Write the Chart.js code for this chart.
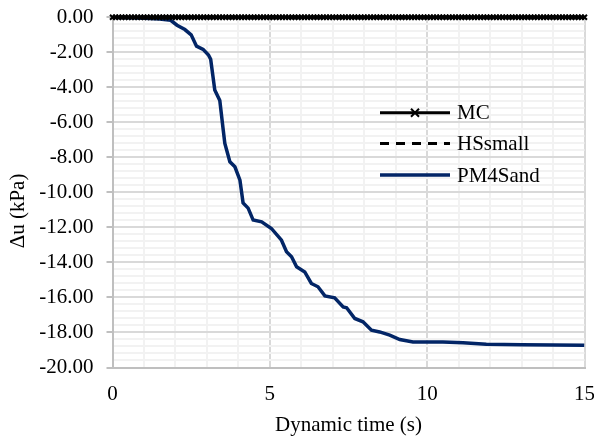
<!DOCTYPE html>
<html>
<head>
<meta charset="utf-8">
<script src="https://cdn.jsdelivr.net/npm/chart.js@4.4.1/dist/chart.umd.min.js"></script>
<style>
  html, body { margin: 0; padding: 0; background: #fff; }
  #wrap { width: 594px; height: 441px; }
</style>
</head>
<body>
<div id="wrap"><canvas id="myChart" width="594" height="441"></canvas></div>
<script>
const ctx = document.getElementById('myChart');

// MC : sampled every 0.1 s
let mcTime = [
  0, 0.1, 0.2, 0.3, 0.4, 0.5, 0.6, 0.7, 0.8, 0.9,
  1, 1.1, 1.2, 1.3, 1.4, 1.5, 1.6, 1.7, 1.8, 1.9,
  2, 2.1, 2.2, 2.3, 2.4, 2.5, 2.6, 2.7, 2.8, 2.9,
  3, 3.1, 3.2, 3.3, 3.4, 3.5, 3.6, 3.7, 3.8, 3.9,
  4, 4.1, 4.2, 4.3, 4.4, 4.5, 4.6, 4.7, 4.8, 4.9,
  5, 5.1, 5.2, 5.3, 5.4, 5.5, 5.6, 5.7, 5.8, 5.9,
  6, 6.1, 6.2, 6.3, 6.4, 6.5, 6.6, 6.7, 6.8, 6.9,
  7, 7.1, 7.2, 7.3, 7.4, 7.5, 7.6, 7.7, 7.8, 7.9,
  8, 8.1, 8.2, 8.3, 8.4, 8.5, 8.6, 8.7, 8.8, 8.9,
  9, 9.1, 9.2, 9.3, 9.4, 9.5, 9.6, 9.7, 9.8, 9.9,
  10, 10.1, 10.2, 10.3, 10.4, 10.5, 10.6, 10.7, 10.8, 10.9,
  11, 11.1, 11.2, 11.3, 11.4, 11.5, 11.6, 11.7, 11.8, 11.9,
  12, 12.1, 12.2, 12.3, 12.4, 12.5, 12.6, 12.7, 12.8, 12.9,
  13, 13.1, 13.2, 13.3, 13.4, 13.5, 13.6, 13.7, 13.8, 13.9,
  14, 14.1, 14.2, 14.3, 14.4, 14.5, 14.6, 14.7, 14.8, 14.9,
  15
];
let mcDu = [
  0, 0, 0, 0, 0, 0, 0, 0, 0, 0,
  0, 0, 0, 0, 0, 0, 0, 0, 0, 0,
  0, 0, 0, 0, 0, 0, 0, 0, 0, 0,
  0, 0, 0, 0, 0, 0, 0, 0, 0, 0,
  0, 0, 0, 0, 0, 0, 0, 0, 0, 0,
  0, 0, 0, 0, 0, 0, 0, 0, 0, 0,
  0, 0, 0, 0, 0, 0, 0, 0, 0, 0,
  0, 0, 0, 0, 0, 0, 0, 0, 0, 0,
  0, 0, 0, 0, 0, 0, 0, 0, 0, 0,
  0, 0, 0, 0, 0, 0, 0, 0, 0, 0,
  0, 0, 0, 0, 0, 0, 0, 0, 0, 0,
  0, 0, 0, 0, 0, 0, 0, 0, 0, 0,
  0, 0, 0, 0, 0, 0, 0, 0, 0, 0,
  0, 0, 0, 0, 0, 0, 0, 0, 0, 0,
  0, 0, 0, 0, 0, 0, 0, 0, 0, 0,
  0
];

let hsTime = [0, 2.5, 5, 7.5, 10, 12.5, 15];
let hsDu   = [0, 0, 0, 0, 0, 0, 0];

let pmTime = [0, 0.5, 1.0, 1.5, 1.85, 2.05, 2.3, 2.5, 2.67, 2.88, 3.05, 3.12, 3.25, 3.41,
  3.52, 3.57, 3.73, 3.89, 4.05, 4.15, 4.31, 4.47, 4.74, 5.05, 5.37, 5.53, 5.69, 5.85,
  6.11, 6.32, 6.53, 6.75, 7.06, 7.33, 7.44, 7.70, 7.96, 8.23, 8.49, 8.81, 9.13, 9.55,
  10.5, 11.14, 11.88, 13.0, 15.0];
let pmDu = [0, -0.02, -0.06, -0.1, -0.17, -0.45, -0.7, -1.0, -1.65, -1.83, -2.15, -2.4, -4.15, -4.75,
  -6.45, -7.2, -8.25, -8.54, -9.3, -10.6, -10.9, -11.58, -11.68, -12.06, -12.73, -13.39, -13.68, -14.25,
  -14.54, -15.2, -15.39, -15.91, -16.02, -16.54, -16.59, -17.2, -17.39, -17.87, -17.97, -18.15, -18.4, -18.54,
  -18.55, -18.59, -18.67, -18.7, -18.73];

let xTitle = 'Dynamic time (s)';
let yTitle = 'Δu (kPa)';

const FONT = "'Liberation Serif', 'Times New Roman', serif";
const pts = (xs, ys) => xs.map((x, i) => ({ x: x, y: ys[i] }));
const isMult = (v, m) => Math.abs(v / m - Math.round(v / m)) < 1e-6;
const noPad = (s) => { s.paddingTop = 0; s.paddingBottom = 0; s.paddingLeft = 0; s.paddingRight = 0; };

// legend drawn inside the plot, like the original
const legendBox = {
  id: 'legendBox',
  afterDraw(chart) {
    const c = chart.ctx;
    const rows = [112.7, 143.5, 175];
    c.save();
    chart.data.datasets.forEach((ds, i) => {
      const y = rows[i];
      c.strokeStyle = ds.borderColor;
      c.lineWidth = ds.borderWidth;
      c.setLineDash(ds.borderDash || []);
      c.beginPath();
      c.moveTo(380, y);
      c.lineTo(450, y);
      c.stroke();
      c.setLineDash([]);
      if (ds.pointRadius > 0) {
        const r = 4;
        c.lineWidth = 2;
        c.beginPath();
        c.moveTo(415 - r, y - r); c.lineTo(415 + r, y + r);
        c.moveTo(415 + r, y - r); c.lineTo(415 - r, y + r);
        c.stroke();
      }
      c.fillStyle = '#000';
      c.font = '21px ' + FONT;
      c.textAlign = 'left';
      c.textBaseline = 'middle';
      c.fillText(ds.label, 457, y + 1);
    });
    // y axis title
    c.translate(18.5, 211);
    c.rotate(-Math.PI / 2);
    c.textAlign = 'center';
    c.textBaseline = 'middle';
    c.font = '21px ' + FONT;
    c.fillText(yTitle, 0, 0);
    c.restore();
  }
};

new Chart(ctx, {
  type: 'line',
  data: {
    datasets: [{
      label: 'MC',
      data: pts(mcTime, mcDu),
      borderColor: '#000',
      backgroundColor: '#000',
      borderWidth: 3,
      pointStyle: 'crossRot',
      pointRadius: 3.5,
      pointBorderWidth: 2,
      pointBorderColor: '#000',
      clip: false
    }, {
      label: 'HSsmall',
      data: pts(hsTime, hsDu),
      borderColor: '#000',
      borderWidth: 3,
      borderDash: [9, 7],
      pointRadius: 0
    }, {
      label: 'PM4Sand',
      data: pts(pmTime, pmDu),
      borderColor: '#022566',
      borderWidth: 3.5,
      pointRadius: 0,
      tension: 0
    }]
  },
  options: {
    responsive: false,
    animation: false,
    layout: { padding: { top: 17.3, right: 9.5, left: 0, bottom: 0 } },
    plugins: {
      legend: { display: false },
      tooltip: { enabled: false }
    },
    scales: {
      x: {
        type: 'linear',
        min: 0,
        max: 15,
        afterFit: (s) => { s.height = 73.5; noPad(s); },
        ticks: {
          stepSize: 1,
          autoSkip: false,
          maxRotation: 0,
          padding: 14,
          color: '#000',
          font: { family: FONT, size: 21 },
          callback: (v) => isMult(v, 5) ? String(Math.round(v)) : ''
        },
        grid: {
          drawTicks: false,
          lineWidth: 2,
          color: (c) => isMult(c.tick.value, 5) ? '#d9d9d9' : '#f2f2f2'
        },
        border: { color: '#bfbfbf', width: 2 },
        title: {
          display: true,
          text: xTitle,
          color: '#000',
          font: { family: FONT, size: 21 },
          padding: { top: 0, bottom: 3 }
        }
      },
      y: {
        min: -20,
        max: 0,
        afterFit: (s) => { s.width = 112.5; noPad(s); },
        ticks: {
          stepSize: 0.4,
          autoSkip: false,
          padding: 13,
          color: '#000',
          font: { family: FONT, size: 21 },
          callback: (v) => isMult(v, 2) ? v.toFixed(2) : ''
        },
        grid: {
          tickLength: 6,
          lineWidth: 2,
          color: (c) => isMult(c.tick.value, 2) ? '#d9d9d9' : '#f2f2f2',
          tickColor: (c) => isMult(c.tick.value, 2) ? '#bfbfbf' : 'rgba(0,0,0,0)'
        },
        border: { color: '#bfbfbf', width: 2 }
      }
    }
  },
  plugins: [legendBox]
});
</script>
</body>
</html>
